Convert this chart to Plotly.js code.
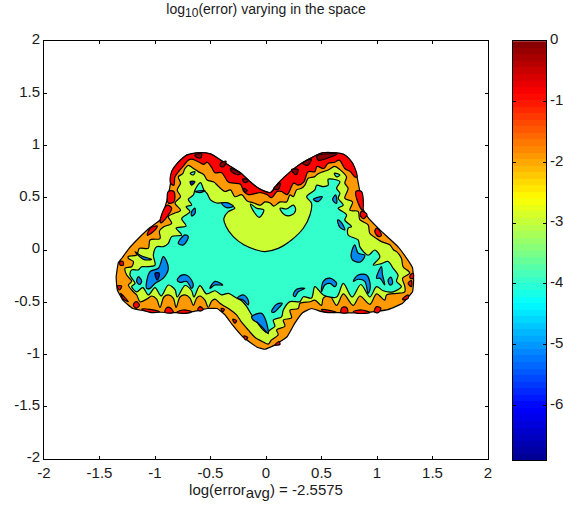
<!DOCTYPE html>
<html><head><meta charset="utf-8">
<script src="https://cdn.plot.ly/plotly-3.0.1.min.js"></script>
<style>html,body{margin:0;padding:0;background:#fff}</style></head>
<body><div id="chart" style="width:563px;height:507px"></div>
<script>
const axisTicks=[-2,-1.5,-1,-0.5,0,0.5,1,1.5,2];
const axisLabels=['-2','-1.5','-1','-0.5','0','0.5','1','1.5','2'];
const cbTicks=[0,-1,-2,-3,-4,-5,-6];
const cbLabels=['0','-1','-2','-3','-4','-5','-6'];
const cbLevels=[-6.846,-6.738,-6.631,-6.523,-6.415,-6.307,-6.2,-6.092,-5.984,-5.876,-5.769,-5.661,-5.553,-5.445,-5.338,-5.23,-5.122,-5.014,-4.907,-4.799,-4.691,-4.583,-4.476,-4.368,-4.26,-4.152,-4.045,-3.937,-3.829,-3.721,-3.614,-3.506,-3.398,-3.29,-3.183,-3.075,-2.967,-2.859,-2.752,-2.644,-2.536,-2.428,-2.321,-2.213,-2.105,-1.997,-1.89,-1.782,-1.674,-1.566,-1.459,-1.351,-1.243,-1.135,-1.028,-.92,-.812,-.704,-.597,-.489,-.381,-.273,-.166,-.058];
const jet=[[0,'#000090'],[0.125,'#0000ff'],[0.375,'#00ffff'],[0.625,'#ffff00'],[0.875,'#ff0000'],[1,'#800000']];

const outline=[[.04,.55],[-.05,.58],[-.14,.65],[-.23,.74],[-.32,.80],[-.41,.86],[-.50,.92],[-.62,.93],[-.71,.91],[-.79,.84],[-.85,.75],[-.86,.64],[-.88,.53],[-.91,.41],[-.95,.29],[-1.05,.21],[-1.15,.11],[-1.23,.02],[-1.30,-.08],[-1.33,-.12],[-1.35,-.26],[-1.34,-.38],[-1.29,-.48],[-1.20,-.56],[-1.05,-.59],[-.84,-.60],[-.66,-.59],[-.53,-.56],[-.44,-.56],[-.37,-.62],[-.30,-.72],[-.21,-.83],[-.08,-.93],[-.01,-.95],[.08,-.91],[.19,-.83],[.26,-.70],[.33,-.60],[.41,-.56],[.50,-.59],[.65,-.60],[.89,-.60],[1.10,-.57],[1.23,-.51],[1.32,-.40],[1.33,-.29],[1.32,-.17],[1.28,-.10],[1.19,.03],[1.10,.12],[1.01,.21],[.92,.31],[.87,.40],[.85,.53],[.82,.70],[.78,.83],[.71,.91],[.62,.93],[.51,.93],[.44,.90],[.32,.83],[.22,.75],[.11,.64],[.04,.55]];

const redBand=[[.82,.70],[.78,.83],[.71,.91],[.62,.93],[.51,.93],[.44,.90],[.32,.83],[.22,.75],[.11,.64],[.04,.55],[-.05,.58],[-.14,.65],[-.23,.74],[-.32,.80],[-.41,.86],[-.50,.92],[-.62,.93],[-.71,.91],[-.79,.84],[-.85,.75],[-.86,.64],[-.83,.62],[-.82,.70],[-.78,.76],[-.74,.81],[-.70,.86],[-.67,.87],[-.62,.85],[-.56,.82],[-.53,.84],[-.49,.79],[-.46,.74],[-.40,.74],[-.34,.65],[-.29,.64],[-.23,.63],[-.20,.56],[-.16,.53],[-.10,.54],[-.05,.55],[.01,.53],[.05,.50],[.10,.56],[.14,.56],[.19,.53],[.25,.64],[.29,.62],[.34,.65],[.38,.75],[.44,.75],[.46,.80],[.52,.78],[.56,.83],[.62,.84],[.66,.86],[.71,.78],[.76,.75],[.80,.70],[.82,.70]];

const redSpots=[[-.88,.56],[-.83,.56],[-.83,.46],[-.88,.45],[-.88,.56],null,
[-.89,.43],[-.85,.40],[-.89,.32],[-.95,.26],[-.94,.34],[-.89,.43],null,
[-.98,.23],[-1.01,.18],[-1.07,.14],[-1.04,.21],[-.98,.23],null,
[.81,.56],[.86,.56],[.87,.38],[.83,.45],[.81,.56],null,
[.86,.37],[.91,.34],[.88,.30],[.85,.33],[.86,.37],null,
[1.00,.21],[1.04,.14],[1.01,.13],[.98,.18],[1.00,.21],null,
[-1.12,-.565],[-1.045,-.568],[-.96,-.59],[-1.045,-.597],[-1.12,-.565],null,
[-.91,-.597],[-.90,-.558],[-.87,-.549],[-.835,-.597],[-.91,-.597],null,
[-.805,-.597],[-.745,-.574],[-.67,-.59],[-.73,-.606],[-.805,-.597],null,
[-.615,-.568],[-.595,-.542],[-.565,-.568],[-.595,-.584],[-.615,-.568],null,
[-1.195,-.526],[-1.17,-.494],[-1.14,-.526],[-1.17,-.558],[-1.195,-.526],null,
[-1.315,-.11],[-1.29,-.11],[-1.285,-.144],[-1.315,-.144],[-1.315,-.11],null,
[-1.34,-.345],[-1.30,-.345],[-1.32,-.383],[-1.34,-.345],null,
[-1.31,-.415],[-1.24,-.495],[-1.285,-.47],[-1.31,-.415],null,
[-.405,-.558],[-.375,-.568],[-.39,-.59],[-.405,-.558],null,
[-.30,-.663],[-.265,-.676],[-.28,-.70],[-.30,-.663],null,
[-.20,-.823],[-.165,-.836],[-.185,-.861],[-.20,-.823],null,
[.50,-.568],[.636,-.597],[.516,-.59],[.50,-.568],null,
[.675,-.597],[.687,-.549],[.726,-.549],[.735,-.597],[.675,-.597],null,
[.786,-.59],[.86,-.574],[.936,-.60],[.83,-.606],[.786,-.59],null,
[.975,-.59],[.996,-.542],[1.035,-.558],[1.01,-.60],[.975,-.59],null,
[1.23,-.47],[1.28,-.43],[1.28,-.463],[1.235,-.478],[1.23,-.47],null,
[1.30,-.24],[1.326,-.223],[1.326,-.27],[1.30,-.27],[1.30,-.24],null,
[1.28,-.32],[1.31,-.293],[1.31,-.35],[1.28,-.32],null,
[.08,-.91],[.117,-.877],[.126,-.903],[.08,-.91]];

const darkRedSpots=[[-.64,.91],[-.58,.92],[-.59,.88],[-.63,.89],[-.64,.91],null,
[-.41,.83],[-.36,.85],[-.38,.80],[-.41,.80],[-.41,.83],null,
[-.32,.78],[-.23,.73],[-.26,.72],[-.31,.75],[-.32,.78],null,
[-.21,.68],[-.16,.67],[-.17,.65],[-.20,.65],[-.21,.68],null,
[-.20,.59],[-.17,.57],[-.19,.55],[-.20,.59],null,
[.46,.90],[.64,.92],[.58,.89],[.47,.86],[.46,.90],null,
[.33,.83],[.41,.87],[.375,.81],[.33,.83],null,
[.23,.77],[.29,.77],[.27,.72],[.23,.77],null,
[.07,.59],[.13,.64],[.11,.58],[.07,.59]];

const yellowZone=[[.037,.45],[-.01,.46],[-.05,.43],[-.11,.45],[-.17,.47],[-.22,.53],[-.28,.51],[-.32,.575],[-.37,.56],[-.43,.61],[-.47,.65],[-.53,.67],[-.56,.72],[-.61,.75],[-.654,.78],[-.70,.81],[-.73,.78],[-.75,.73],[-.79,.70],[-.77,.64],[-.80,.575],[-.77,.51],[-.82,.45],[-.77,.38],[-.83,.35],[-.88,.32],[-.85,.255],[-.925,.22],[-.96,.18],[-.955,.11],[-1.045,.096],[-1.06,.016],[-1.14,.016],[-1.165,-.048],[-1.24,-.06],[-1.24,-.08],[-1.195,-.11],[-1.21,-.16],[-1.27,-.175],[-1.255,-.24],[-1.21,-.30],[-1.24,-.335],[-1.195,-.40],[-1.165,-.43],[-1.135,-.495],[-1.075,-.47],[-1.03,-.44],[-.985,-.47],[-.955,-.55],[-.92,-.45],[-.88,-.43],[-.835,-.46],[-.81,-.55],[-.775,-.45],[-.73,-.43],[-.685,-.46],[-.655,-.53],[-.625,-.46],[-.595,-.44],[-.55,-.48],[-.52,-.55],[-.49,-.49],[-.46,-.47],[-.415,-.51],[-.385,-.53],[-.325,-.57],[-.265,-.62],[-.22,-.69],[-.16,-.765],[-.10,-.835],[-.025,-.88],[.02,-.90],[.05,-.86],[.11,-.81],[.096,-.765],[.17,-.73],[.156,-.67],[.23,-.65],[.216,-.575],[.29,-.56],[.306,-.51],[.396,-.495],[.44,-.48],[.50,-.53],[.516,-.46],[.576,-.44],[.636,-.53],[.696,-.42],[.786,-.53],[.846,-.44],[.936,-.52],[.996,-.42],[1.07,-.48],[1.086,-.43],[1.176,-.415],[1.25,-.40],[1.25,-.345],[1.23,-.27],[1.295,-.22],[1.235,-.16],[1.22,-.08],[1.176,-.016],[1.15,.00],[1.115,.05],[1.04,.08],[.995,.11],[.935,.16],[.92,.24],[.845,.29],[.83,.37],[.755,.38],[.78,.46],[.71,.495],[.74,.59],[.71,.64],[.725,.70],[.665,.77],[.62,.80],[.56,.766],[.515,.75],[.47,.73],[.435,.70],[.38,.686],[.35,.62],[.32,.59],[.276,.575],[.246,.51],[.216,.527],[.186,.46],[.126,.46],[.07,.42],[.037,.45]];

const turquoiseZone=[[-.28,.40],[-.37,.45],[-.445,.45],[-.50,.48],[-.53,.54],[-.56,.575],[-.59,.645],[-.64,.575],[-.654,.527],[-.70,.485],[-.67,.43],[-.72,.415],[-.685,.367],[-.76,.30],[-.72,.23],[-.81,.21],[-.76,.144],[-.85,.128],[-.88,.064],[-.925,.032],[-.985,.032],[-1.015,-.048],[-1.0,-.144],[-1.075,-.16],[-1.12,-.16],[-1.15,-.19],[-1.21,-.19],[-1.225,-.24],[-1.18,-.32],[-1.21,-.35],[-1.165,-.40],[-1.11,-.36],[-1.06,-.43],[-1.0,-.36],[-.945,-.44],[-.88,-.335],[-.82,-.38],[-.80,-.45],[-.73,-.34],[-.67,-.39],[-.65,-.45],[-.595,-.34],[-.535,-.42],[-.46,-.39],[-.40,-.43],[-.34,-.415],[-.265,-.46],[-.22,-.485],[-.175,-.54],[-.13,-.62],[-.085,-.685],[-.025,-.765],[.01,-.79],[.036,-.765],[.08,-.73],[.066,-.67],[.14,-.64],[.156,-.574],[.216,-.494],[.306,-.494],[.336,-.447],[.41,-.46],[.44,-.35],[.516,-.43],[.636,-.45],[.696,-.32],[.776,-.45],[.855,-.33],[.936,-.45],[.996,-.35],[1.056,-.39],[1.146,-.40],[1.22,-.35],[1.176,-.30],[1.19,-.24],[1.146,-.175],[1.10,-.11],[1.04,-.13],[.966,-.144],[1.026,-.064],[.98,0],[.92,-.05],[.846,.03],[.83,.096],[.74,.144],[.74,.21],[.77,.224],[.71,.287],[.726,.335],[.65,.40],[.696,.43],[.65,.495],[.666,.543],[.636,.59],[.666,.654],[.606,.677],[.56,.677],[.56,.62],[.516,.606],[.456,.62],[.44,.575],[.366,.51],[.41,.447],[.396,.335],[.336,.208],[.23,.096],[.11,.016],[-.01,-.015],[-.085,0],[-.20,.05],[-.295,.128],[-.36,.224],[-.38,.30],[-.34,.367],[-.28,.40]];

const turquoisePockets=[[-.14,.44],[-.11,.367],[-.06,.313],[-.02,.383],[-.084,.40],[-.14,.44],null,
[.126,.40],[.186,.393],[.246,.43],[.267,.383],[.23,.335],[.17,.335],[.126,.40],null,
[-.684,.734],[-.64,.75],[-.654,.718],[-.684,.734],null,
[.615,.734],[.666,.718],[.636,.70],[.615,.734]];

const blueSpots=[[-1.075,-.367],[-1.045,-.207],[-.97,-.175],[-.925,-.064],[-.88,-.175],[-.925,-.27],[-1.0,-.32],[-1.045,-.367],[-1.075,-.367],null,
[-.80,-.287],[-.76,-.24],[-.70,-.25],[-.655,-.335],[-.67,-.367],[-.715,-.30],[-.775,-.31],[-.80,-.287],null,
[-.505,-.367],[-.46,-.30],[-.39,-.335],[-.46,-.335],[-.505,-.367],null,
[-.258,-.46],[-.204,-.43],[-.16,-.48],[-.16,-.526],[-.204,-.48],[-.258,-.46],null,
[-.13,-.638],[-.04,-.606],[-.003,-.67],[.02,-.80],[-.01,-.766],[-.07,-.70],[-.115,-.67],[-.13,-.638],null,
[-1.165,-.30],[-1.15,-.255],[-1.12,-.30],[-1.14,-.33],[-1.165,-.30],null,
[-1.18,-.016],[-1.12,-.057],[-1.03,-.09],[-1.105,-.09],[-1.18,-.016],null,
[.50,-.40],[.516,-.30],[.576,-.27],[.636,-.32],[.62,-.35],[.576,-.32],[.53,-.335],[.50,-.40],null,
[.786,-.30],[.83,-.24],[.906,-.24],[.94,-.35],[.92,-.415],[.89,-.30],[.83,-.28],[.786,-.30],null,
[.246,-.43],[.276,-.376],[.35,-.367],[.29,-.40],[.26,-.447],[.246,-.43],null,
[.05,-.59],[.096,-.52],[.147,-.51],[.11,-.56],[.07,-.597],[.05,-.59],null,
[.996,-.27],[1.04,-.16],[1.05,-.24],[1.07,-.335],[1.026,-.27],[.996,-.27],null,
[1.10,-.287],[1.125,-.26],[1.14,-.32],[1.116,-.335],[1.10,-.287],null,
[.766,-.05],[.80,.05],[.83,-.03],[.89,-.05],[.85,-.115],[.78,-.096],[.766,-.05],null,
[-.79,.064],[-.73,.144],[-.70,.128],[-.745,.048],[-.79,.064],null,
[-.67,.367],[-.64,.40],[-.64,.35],[-.67,.326],[-.67,.367],null,
[-.64,.56],[-.55,.568],[-.594,.549],[-.64,.56],null,
[-.40,.447],[-.354,.453],[-.294,.42],[-.354,.405],[-.40,.447],null,
[.426,.485],[.507,.51],[.47,.463],[.426,.485],null,
[.60,.485],[.627,.527],[.636,.447],[.61,.463],[.60,.485],null,
[.645,.287],[.675,.27],[.71,.192],[.666,.217],[.645,.287]];

const navySpots=[[-1.0,-.223],[-.96,-.223],[-.98,-.287],[-1.0,-.223],null,
[-.684,.654],[-.64,.654],[-.67,.62],[-.684,.654]];

const layerList=[[outline,'#ff9900',0.3],[redBand,'#ff0000',1],[redSpots,'#ff0000',1],[darkRedSpots,'#8a0000',1],[yellowZone,'#ccff33',0.9],[turquoiseZone,'#33ffcc',0.9],[turquoisePockets,'#33ffcc',1],[blueSpots,'#0088ee',1],[navySpots,'#0022aa',1]];
const px=(v)=>v===null?null:v[0], py=(v)=>v===null?null:v[1];
const traces=layerList.map(([pts,col,sm])=>({type:'scatter',mode:'lines',x:pts.map(px),y:pts.map(py),fill:'toself',fillcolor:col,line:{color:'#000',width:1.2,shape:'spline',smoothing:sm},hoverinfo:'skip',showlegend:false,connectgaps:false}));
traces.push({type:'heatmap',x:[0],y:cbLevels,z:cbLevels.map(v=>[v]),xaxis:'x2',yaxis:'y2',colorscale:jet,zmin:-6.9,zmax:0,showscale:false,hoverinfo:'skip'});

const W=563,H=507;
const font={family:'"Liberation Sans",Arial,sans-serif',size:15,color:'#1a1a1a'};
const common={showgrid:false,zeroline:false,showline:true,linecolor:'#000',linewidth:1,mirror:'ticks',ticks:'inside',ticklen:3,tickcolor:'#000',tickfont:font,tickmode:'array'};
const layout={width:W,height:H,margin:{l:0,r:0,t:0,b:0},paper_bgcolor:'#fff',plot_bgcolor:'#fff',showlegend:false,
 title:{text:'log<sub><span style="font-size:12px">10</span></sub>(error) varying in the space',font:{family:font.family,size:14,color:'#1a1a1a'},x:266/W,xanchor:'center',xref:'container',y:1-9/H,yanchor:'middle',yref:'container'},
 xaxis:Object.assign({},common,{domain:[44/W,488/W],range:[-2,2],tickvals:axisTicks,ticktext:axisLabels,title:{text:'log(error<sub><span style="font-size:15px">avg</span></sub>) = -2.5575',font:{family:font.family,size:15,color:'#1a1a1a'},standoff:3}}),
 yaxis:Object.assign({},common,{domain:[1-459/H,1-41/H],range:[-2,2],tickvals:axisTicks,ticktext:axisLabels,ticklabelshift:-2}),
 xaxis2:{domain:[513/W,546/W],range:[-.5,.5],anchor:'y2',showticklabels:false,ticks:'',showgrid:false,zeroline:false,showline:true,linecolor:'#000',linewidth:1,mirror:true},
 yaxis2:Object.assign({},common,{domain:[1-460/H,1-41/H],range:[-6.9,0],anchor:'x2',side:'right',tickvals:cbTicks,ticktext:cbLabels,ticklabelshift:-2})
};
Plotly.newPlot('chart',traces,layout,{displayModeBar:false,staticPlot:true});
</script></body></html>
